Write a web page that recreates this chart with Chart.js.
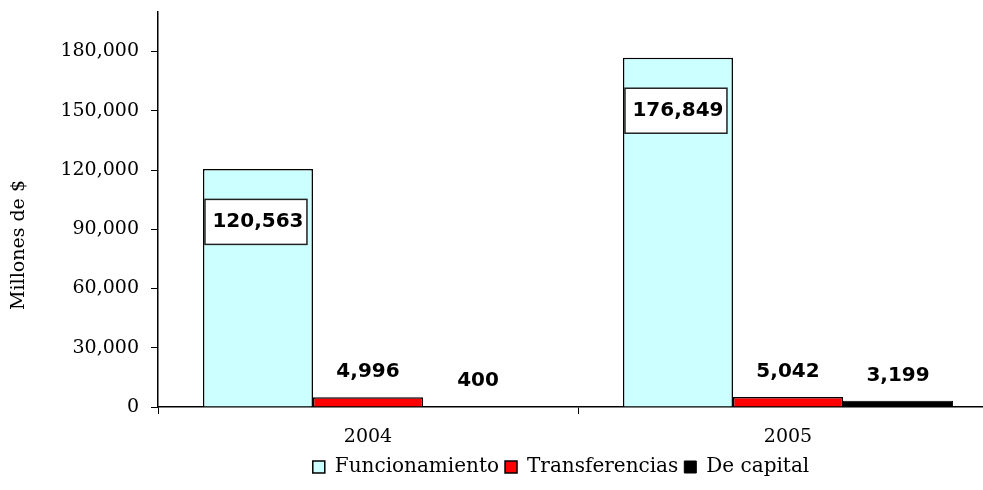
<!DOCTYPE html>
<html>
<head>
<meta charset="utf-8">
<script src="https://cdn.jsdelivr.net/npm/chart.js@4/dist/chart.umd.min.js"></script>
<style>
  html, body { margin: 0; padding: 0; background: #fff; overflow: hidden; }
  #wrap { width: 1122px; height: 490px; }
</style>
</head>
<body>
<div id="wrap"><canvas id="grafica" width="1122" height="490"></canvas></div>
<script>
const anios = ["2004", "2005"];
const funcionamiento = [120563, 176849];
const transferencias = [4996, 5042];
const deCapital = [400, 3199];
const ticksY = [0, 30000, 60000, 90000, 120000, 150000, 180000];

const fmt = v => v.toLocaleString("en-US");

const etiquetas = {
    id: "etiquetas",
    afterDatasetsDraw(chart) {
        const ctx = chart.ctx;
        ctx.save();
        ctx.font = "bold 20px 'DejaVu Sans'";
        ctx.textAlign = "center";
        ctx.textBaseline = "middle";
        chart.data.datasets.forEach((ds, i) => {
            chart.getDatasetMeta(i).data.forEach((bar, j) => {
                const txt = fmt(ds.data[j]);
                if (i === 0) {
                    const cy = bar.y + 53;
                    ctx.fillStyle = "#fff";
                    ctx.fillRect(bar.x - 53, cy - 22.5, 102, 45);
                    ctx.strokeStyle = "#222";
                    ctx.lineWidth = 1.5;
                    ctx.strokeRect(bar.x - 53, cy - 22.5, 102, 45);
                    ctx.fillStyle = "#000";
                    ctx.fillText(txt, bar.x, cy);
                } else {
                    ctx.fillStyle = "#000";
                    ctx.fillText(txt, bar.x, bar.y - 25);
                }
            });
        });
        // titulo del eje y
        ctx.font = "19px 'DejaVu Serif'";
        ctx.translate(19, 245);
        ctx.rotate(-Math.PI / 2);
        ctx.fillText("Millones de $", 0, 0);
        ctx.restore();
    }
};

new Chart(document.getElementById("grafica").getContext("2d"), {
    type: "bar",
    data: {
        labels: anios,
        datasets: [
            { label: "Funcionamiento", data: funcionamiento, backgroundColor: "#CCFFFF", borderColor: "#000", borderWidth: 1.5 },
            { label: "Transferencias", data: transferencias, backgroundColor: "#FF0000", borderColor: "#000", borderWidth: 1.5 },
            { label: "De capital", data: deCapital, backgroundColor: "#000000", borderColor: "#000", borderWidth: 1 }
        ]
    },
    options: {
        responsive: false,
        animation: false,
        layout: { padding: { top: 12, left: 0, right: 0, bottom: 3 } },
        datasets: { bar: { categoryPercentage: 0.786, barPercentage: 1 } },
        plugins: {
            tooltip: { enabled: false },
            legend: {
                position: "bottom",
                labels: {
                    color: "#000",
                    font: { family: "'DejaVu Serif'", size: 20 },
                    boxWidth: 12,
                    boxHeight: 12,
                    padding: 6
                }
            }
        },
        scales: {
            x: {
                afterFit: s => { s.height = 44; s.paddingLeft = 0; s.paddingRight = 0; },
                grid: { display: true, drawOnChartArea: false, offset: true, tickLength: 7, color: "#000" },
                border: { color: "#000", width: 1.5 },
                ticks: { color: "#000", font: { family: "'DejaVu Serif'", size: 19 }, padding: 12 }
            },
            y: {
                min: 0,
                max: 200000,
                afterFit: s => { s.width = 158; s.paddingTop = 0; s.paddingBottom = 0; },
                afterBuildTicks: s => { s.ticks = ticksY.map(v => ({ value: v })); },
                grid: { display: true, drawOnChartArea: false, tickLength: 7, color: "#000" },
                border: { color: "#000", width: 1.5 },
                ticks: { color: "#000", font: { family: "'DejaVu Serif'", size: 19 }, padding: 12, callback: v => fmt(v) }
            },
            derecha: {
                position: "right",
                afterFit: s => { s.width = 124; s.paddingTop = 0; s.paddingBottom = 0; },
                grid: { display: false },
                border: { display: false },
                ticks: { display: false }
            }
        }
    },
    plugins: [etiquetas]
});
</script>
</body>
</html>
